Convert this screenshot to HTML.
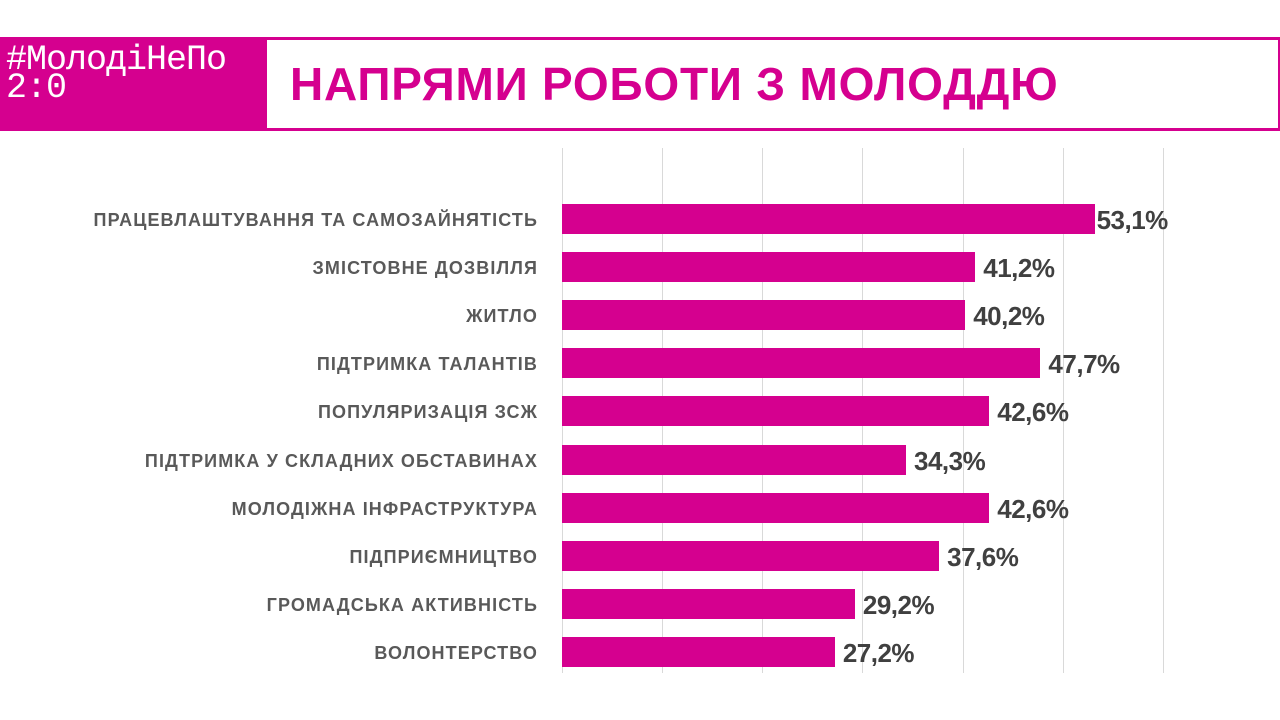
<!DOCTYPE html>
<html><head><meta charset="utf-8"><style>
body{margin:0;width:1280px;height:720px;background:#fff;position:relative;overflow:hidden;font-family:"Liberation Sans","DejaVu Sans",sans-serif}
.band{position:absolute;left:0;top:37px;width:1280px;height:94px;background:#d5008f}
.box{position:absolute;left:267px;top:40px;width:1011px;height:88px;background:#fff}
.title{position:absolute;left:290px;top:57px;font-size:46px;font-weight:bold;color:#d5008f;white-space:nowrap;letter-spacing:0.8px}
.logo{position:absolute;left:6px;top:46px;font-family:"Liberation Mono","DejaVu Sans Mono",monospace;color:#fff;font-size:35px;line-height:28px;letter-spacing:-1px}
.grid{position:absolute;top:148px;width:1px;height:525px;background:#d9d9d9}
.bar{position:absolute;left:562px;height:30px;background:#d5008f}
.lab{position:absolute;right:742px;font-size:18px;font-weight:bold;color:#595959;white-space:nowrap;line-height:30px;letter-spacing:1.1px}
.val{position:absolute;font-size:26px;font-weight:bold;color:#404040;line-height:30px;letter-spacing:-0.5px}
</style></head><body>
<div class="band"></div><div class="box"></div>
<div class="logo">#МолодіНеПо<br>2:0</div>
<div class="title">НАПРЯМИ РОБОТИ З МОЛОДДЮ</div>
<div class="grid" style="left:562px"></div><div class="grid" style="left:662px"></div><div class="grid" style="left:762px"></div><div class="grid" style="left:862px"></div><div class="grid" style="left:963px"></div><div class="grid" style="left:1063px"></div><div class="grid" style="left:1163px"></div>
<div id="c"></div>
<script>
var d=[["ПРАЦЕВЛАШТУВАННЯ ТА САМОЗАЙНЯТІСТЬ",53.1],["ЗМІСТОВНЕ ДОЗВІЛЛЯ",41.2],["ЖИТЛО",40.2],["ПІДТРИМКА ТАЛАНТІВ",47.7],["ПОПУЛЯРИЗАЦІЯ ЗСЖ",42.6],["ПІДТРИМКА У СКЛАДНИХ ОБСТАВИНАХ",34.3],["МОЛОДІЖНА  ІНФРАСТРУКТУРА",42.6],["ПІДПРИЄМНИЦТВО",37.6],["ГРОМАДСЬКА АКТИВНІСТЬ",29.2],["ВОЛОНТЕРСТВО",27.2]];
var h="";d.forEach(function(r,i){var y=204+i*48.1,w=r[1]*10.03;
h+='<div class="lab" style="top:'+(y+1)+'px">'+r[0]+'</div><div class="bar" style="top:'+y+'px;width:'+w+'px"></div><div class="val" style="top:'+(y+1)+'px;left:'+(562+w+(i==0?2:8))+'px">'+r[1].toFixed(1).replace(".",",")+'%</div>';});
document.getElementById("c").innerHTML=h;
</script>
</body></html>
